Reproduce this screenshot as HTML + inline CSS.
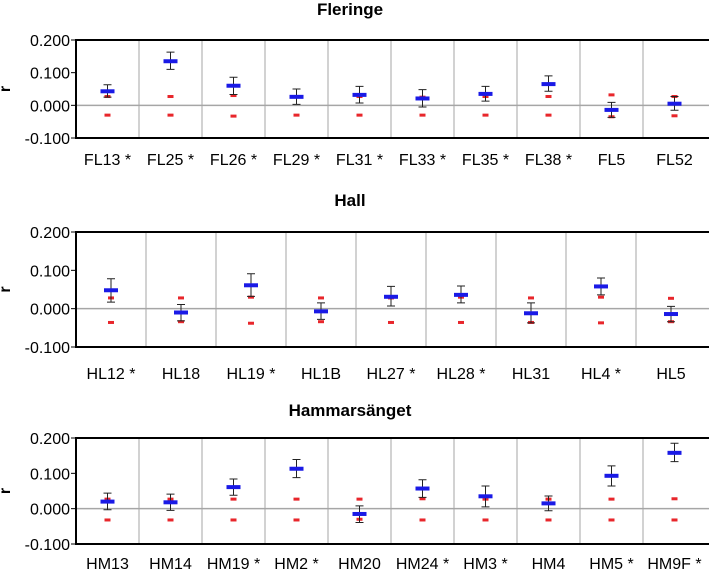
<!DOCTYPE html>
<html><head><meta charset="utf-8"><style>
body{margin:0;background:#fff;}
svg{display:block;font-family:"Liberation Sans Narrow","Liberation Sans",sans-serif;}
</style></head><body>
<svg id="c" width="709" height="571"></svg>
<script>
const flCats=["FL13 *","FL25 *","FL26 *","FL29 *","FL31 *","FL33 *","FL35 *","FL38 *","FL5","FL52"];
const flVal=[0.043,0.135,0.060,0.026,0.032,0.021,0.035,0.065,-0.014,0.005];
const flHi=[0.063,0.163,0.086,0.050,0.058,0.048,0.058,0.090,0.009,0.027];
const flLo=[0.025,0.110,0.033,0.003,0.007,-0.005,0.013,0.043,-0.037,-0.015];
const flRU=[0.027,0.027,0.030,0.027,0.027,0.025,0.027,0.027,0.032,0.027];
const flRL=[-0.030,-0.030,-0.033,-0.030,-0.030,-0.030,-0.030,-0.030,-0.035,-0.032];
const hlCats=["HL12 *","HL18","HL19 *","HL1B","HL27 *","HL28 *","HL31","HL4 *","HL5"];
const hlVal=[0.048,-0.010,0.061,-0.007,0.031,0.036,-0.012,0.058,-0.014];
const hlHi=[0.078,0.011,0.091,0.015,0.058,0.059,0.015,0.080,0.006];
const hlLo=[0.017,-0.032,0.032,-0.028,0.007,0.015,-0.037,0.036,-0.034];
const hlRU=[0.028,0.028,0.030,0.028,0.028,0.030,0.028,0.030,0.027];
const hlRL=[-0.036,-0.034,-0.038,-0.034,-0.036,-0.036,-0.036,-0.037,-0.034];
const hmCats=["HM13","HM14","HM19 *","HM2 *","HM20","HM24 *","HM3 *","HM4","HM5 *","HM9F *"];
const hmVal=[0.020,0.018,0.061,0.113,-0.015,0.057,0.035,0.015,0.093,0.158];
const hmHi=[0.044,0.041,0.084,0.139,0.008,0.082,0.064,0.036,0.121,0.185];
const hmLo=[-0.003,-0.005,0.038,0.088,-0.039,0.032,0.005,-0.006,0.064,0.133];
const hmRU=[0.027,0.027,0.027,0.027,0.027,0.028,0.027,0.027,0.027,0.028];
const hmRL=[-0.032,-0.032,-0.032,-0.032,-0.030,-0.032,-0.032,-0.032,-0.032,-0.032];
const yTicks=[0.2,0.1,0,-0.1];
const yTickLabels=["0.200","0.100","0.000","-0.100"];
const svg=document.getElementById('c');
const NS='http://www.w3.org/2000/svg';
function mk(t,a,p){const e=document.createElementNS(NS,t);for(const k in a)e.setAttribute(k,a[k]);(p||svg).appendChild(e);return e;}
function panel(name,title,titleY,top,bottom,labOff,cats,val,hi,lo,ru,rl){
  const g=mk('g',{});
  
  
  const L=76,R=706;
  const y=v=>top+(0.2-v)/0.3*(bottom-top);
  const w=(R-L)/cats.length;
  const x=i=>L+w*(i+0.5);
  const t=mk('text',{x:350,y:titleY,'text-anchor':'middle','font-size':17,'font-weight':'bold',fill:'#000'},g);
  t.textContent=title;
  
  
  for(let i=1;i<cats.length;i++) mk('line',{x1:L+w*i,x2:L+w*i,y1:top,y2:bottom,stroke:'#a6a6a6','stroke-width':1},g);
  mk('line',{x1:L,x2:R+3,y1:y(0),y2:y(0),stroke:'#a6a6a6','stroke-width':1.5},g);
  mk('path',{d:`M${R+3} ${top}H${L}V${bottom}H${R+3}`,fill:'none',stroke:'#000','stroke-width':2},g);
  yTicks.forEach((v,k)=>{
    mk('line',{x1:L-5,x2:L,y1:y(v),y2:y(v),stroke:'#000','stroke-width':1},g);
    const tl=mk('text',{x:L-6,y:y(v)+6,'text-anchor':'end','font-size':16,fill:'#000'},g);
    tl.textContent=yTickLabels[k];
    
    
  });
  const r=mk('text',{x:0,y:0,'font-size':16,'font-weight':'bold',transform:`translate(10,${(top+bottom)/2}) rotate(-90)`,'text-anchor':'middle'},g);
  r.textContent='r';
  
  
  cats.forEach((c,i)=>{
    const cx=x(i);
    const cl=mk('text',{x:cx,y:bottom+labOff,'text-anchor':'middle','font-size':16,fill:'#000'},g);
    cl.textContent=c;
    
    
    const u=mk('rect',{x:cx-3,y:y(ru[i])-1.5,width:6,height:3,fill:'#e8262b'},g);
    
    
    const d=mk('rect',{x:cx-3,y:y(rl[i])-1.5,width:6,height:3,fill:'#e8262b'},g);
    
    
    const eb=mk('path',{d:`M${cx-4} ${y(hi[i])}H${cx+4}M${cx} ${y(hi[i])}V${y(lo[i])}M${cx-4} ${y(lo[i])}H${cx+4}`,stroke:'#222','stroke-width':1,fill:'none'},g);
    
    
    const m=mk('rect',{x:cx-7,y:y(val[i])-2,width:14,height:4,fill:'#1a1ae6'},g);
    
    
  });
}
panel('fleringe','Fleringe',15,40,138,27,flCats,flVal,flHi,flLo,flRU,flRL);
panel('hall','Hall',206,232,347,32,hlCats,hlVal,hlHi,hlLo,hlRU,hlRL);
panel('hammarsanget','Hammarsänget',416,438,544,25,hmCats,hmVal,hmHi,hmLo,hmRU,hmRL);
</script>
</body></html>
